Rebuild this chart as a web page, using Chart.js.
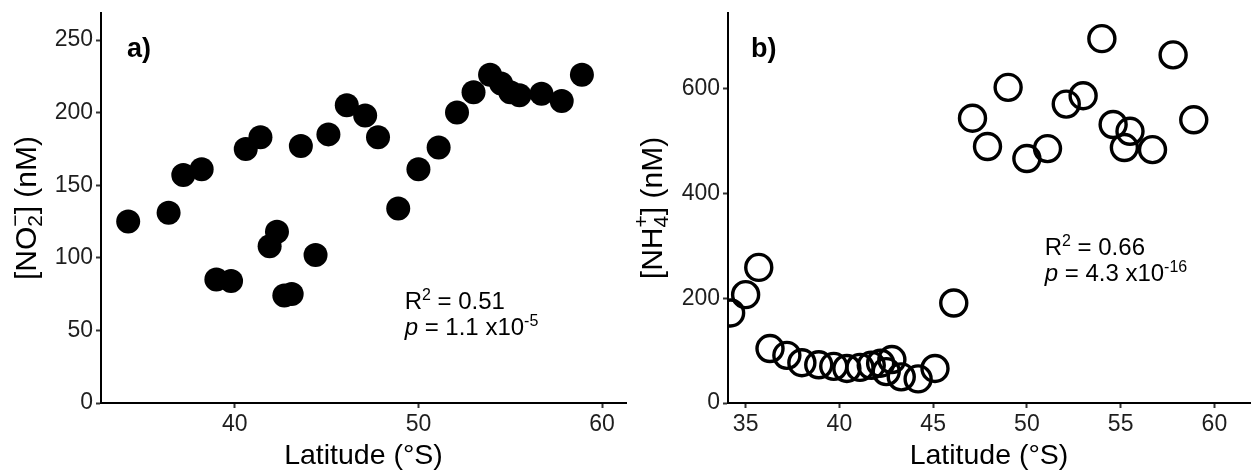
<!DOCTYPE html>
<html>
<head>
<meta charset="utf-8">
<script src="https://cdn.jsdelivr.net/npm/chart.js@4"></script>
<style>
  html, body { margin: 0; padding: 0; background: #fff; }
  #wrap { position: relative; width: 1251px; height: 472px; }
  canvas { position: absolute; top: 0; }
</style>
</head>
<body>
<div id="wrap">
  <canvas id="panelA" width="630" height="472" style="left:0"></canvas>
  <canvas id="panelB" width="621" height="472" style="left:630px"></canvas>
</div>
<script>
// panel a) nitrite vs latitude
const latA = [34.2, 36.4, 37.2, 38.2, 39.0, 39.8, 40.6, 41.4, 41.9, 42.3,
  42.7, 43.1, 43.6, 44.4, 45.1, 46.1, 47.1, 47.8, 48.9, 50.0,
  51.1, 52.1, 53.0, 53.9, 54.5, 55.0, 55.5, 56.7, 57.8, 58.9];
const no2 = [125, 131, 157, 161, 85, 84, 175, 183, 108, 118,
  74, 75, 177, 102, 185, 205, 198, 183, 134, 161,
  176, 200, 214, 226, 220, 214, 212, 213, 208, 226];

// panel b) ammonium vs latitude
const latB = [34.2, 35.0, 35.7, 36.3, 37.2, 38.0, 38.9, 39.7, 40.4, 41.1,
  41.7, 42.2, 42.5, 42.8, 43.3, 44.2, 45.1, 46.1, 47.1, 47.9,
  49.0, 50.0, 51.1, 52.1, 53.0, 54.0, 54.6, 55.2, 55.5, 56.7,
  57.8, 58.9];
const nh4 = [172, 207, 259, 104, 91, 77, 73, 70, 66, 68,
  72, 76, 60, 83, 50, 46, 66, 191, 544, 490,
  603, 467, 486, 571, 587, 696, 532, 488, 519, 484,
  665, 541];

const ticksXA = [40, 50, 60];
const ticksYA = [0, 50, 100, 150, 200, 250];
const ticksXB = [35, 40, 45, 50, 55, 60];
const ticksYB = [0, 200, 400, 600];

const FONT = '"Liberation Sans", Arial, sans-serif';

// text runs: {t, size, dy, style} or {stack:[sub, sup], size}
function runWidth(ctx, r) {
  ctx.font = (r.style || '') + ' ' + r.size + 'px ' + FONT;
  if (r.stack) return Math.max(ctx.measureText(r.stack[0]).width, ctx.measureText(r.stack[1]).width);
  return ctx.measureText(r.t).width;
}

function drawRuns(ctx, runs, x, y) {
  let cx = x;
  ctx.textAlign = 'left';
  ctx.textBaseline = 'alphabetic';
  runs.forEach(r => {
    const w = runWidth(ctx, r);
    if (r.stack) {
      ctx.fillText(r.stack[0], cx, y + 6);
      ctx.fillText(r.stack[1], cx + (w - ctx.measureText(r.stack[1]).width) / 2, y - 14);
    } else {
      ctx.fillText(r.t, cx, y + (r.dy || 0));
    }
    cx += w;
  });
  return cx - x;
}

function totalWidth(ctx, runs) {
  return runs.reduce((s, r) => s + runWidth(ctx, r), 0);
}

function panelText(opts) {
  return {
    id: 'panelText',
    afterDraw(chart) {
      const ctx = chart.ctx;
      const a = chart.chartArea;
      const xs = chart.scales.x, ys = chart.scales.y;
      ctx.save();
      ctx.fillStyle = '#000';

      // panel letter
      ctx.font = 'bold 27px ' + FONT;
      ctx.textAlign = 'left';
      ctx.fillText(opts.letter, a.left + opts.letterDx, 57);

      // x title
      ctx.font = '28.5px ' + FONT;
      ctx.textAlign = 'center';
      ctx.fillText('Latitude (°S)', (a.left + a.right) / 2, 464);

      // y title, rotated
      const w = totalWidth(ctx, opts.yTitle);
      ctx.save();
      ctx.translate(opts.yTitleX, (a.top + a.bottom) / 2);
      ctx.rotate(-Math.PI / 2);
      drawRuns(ctx, opts.yTitle, -w / 2, 11);
      ctx.restore();

      // stats
      const sx = xs.getPixelForValue(opts.statX);
      const sy = ys.getPixelForValue(opts.statY);
      drawRuns(ctx, opts.line1, sx, sy);
      drawRuns(ctx, opts.line2, sx, sy + 26);
      ctx.restore();
    }
  };
}

function makeScale(min, max, tickVals, fit) {
  return {
    type: 'linear',
    min: min,
    max: max,
    afterBuildTicks: s => { s.ticks = tickVals.map(v => ({ value: v })); },
    afterFit: s => {
      fit(s);
      s.paddingLeft = 0; s.paddingRight = 0;
      s.paddingTop = 0; s.paddingBottom = 0;
    },
    ticks: { color: '#1e1e1e', font: { family: FONT, size: 23 }, padding: 3, maxRotation: 0 },
    grid: { drawOnChartArea: false, drawTicks: true, tickLength: 5, tickColor: '#333', tickWidth: 2 },
    border: { display: true, color: '#000', width: 2 }
  };
}

function makeChart(id, xs, ys, ds, scales, pad, textOpts) {
  return new Chart(document.getElementById(id), {
    type: 'scatter',
    data: {
      datasets: [Object.assign({
        data: xs.map((x, i) => ({ x: x, y: ys[i] })),
        clip: 0
      }, ds)]
    },
    options: {
      responsive: false,
      animation: false,
      devicePixelRatio: 1,
      layout: { padding: pad, autoPadding: false },
      plugins: { legend: { display: false }, tooltip: { enabled: false } },
      scales: scales
    },
    plugins: [panelText(textOpts)]
  });
}

makeChart('panelA', latA, no2,
  { pointRadius: 12, backgroundColor: '#000', borderColor: '#000', borderWidth: 0 },
  {
    x: makeScale(32.72, 61.3, ticksXA, s => { s.height = 69; }),
    y: makeScale(0, 268.6, ticksYA, s => { s.width = 101; })
  },
  { top: 13, right: 4, left: 0, bottom: 0 },
  {
    letter: 'a)', letterDx: 26, yTitleX: 25,
    yTitle: [
      { t: '[NO', size: 30 },
      { stack: ['2', '\u2212'], size: 21 },
      { t: '] (nM)', size: 30 }
    ],
    statX: 49.25, statY: 65,
    line1: [{ t: 'R', size: 24 }, { t: '2', size: 16, dy: -9 }, { t: ' = 0.51', size: 24 }],
    line2: [{ t: 'p', size: 24, style: 'italic' }, { t: ' = 1.1 x10', size: 24 }, { t: '-5', size: 16, dy: -9 }]
  });

makeChart('panelB', latB, nh4,
  { pointRadius: 13, backgroundColor: 'rgba(0,0,0,0)', borderColor: '#000', borderWidth: 3.4 },
  {
    x: makeScale(34.06, 61.9, ticksXB, s => { s.height = 69; }),
    y: makeScale(0, 745, ticksYB, s => { s.width = 98; })
  },
  { top: 13, right: 1, left: 0, bottom: 0 },
  {
    letter: 'b)', letterDx: 23, yTitleX: 21,
    yTitle: [
      { t: '[NH', size: 30 },
      { stack: ['4', '+'], size: 21 },
      { t: '] (nM)', size: 30 }
    ],
    statX: 50.95, statY: 283,
    line1: [{ t: 'R', size: 24 }, { t: '2', size: 16, dy: -9 }, { t: ' = 0.66', size: 24 }],
    line2: [{ t: 'p', size: 24, style: 'italic' }, { t: ' = 4.3 x10', size: 24 }, { t: '-16', size: 16, dy: -9 }]
  });
</script>
</body>
</html>
